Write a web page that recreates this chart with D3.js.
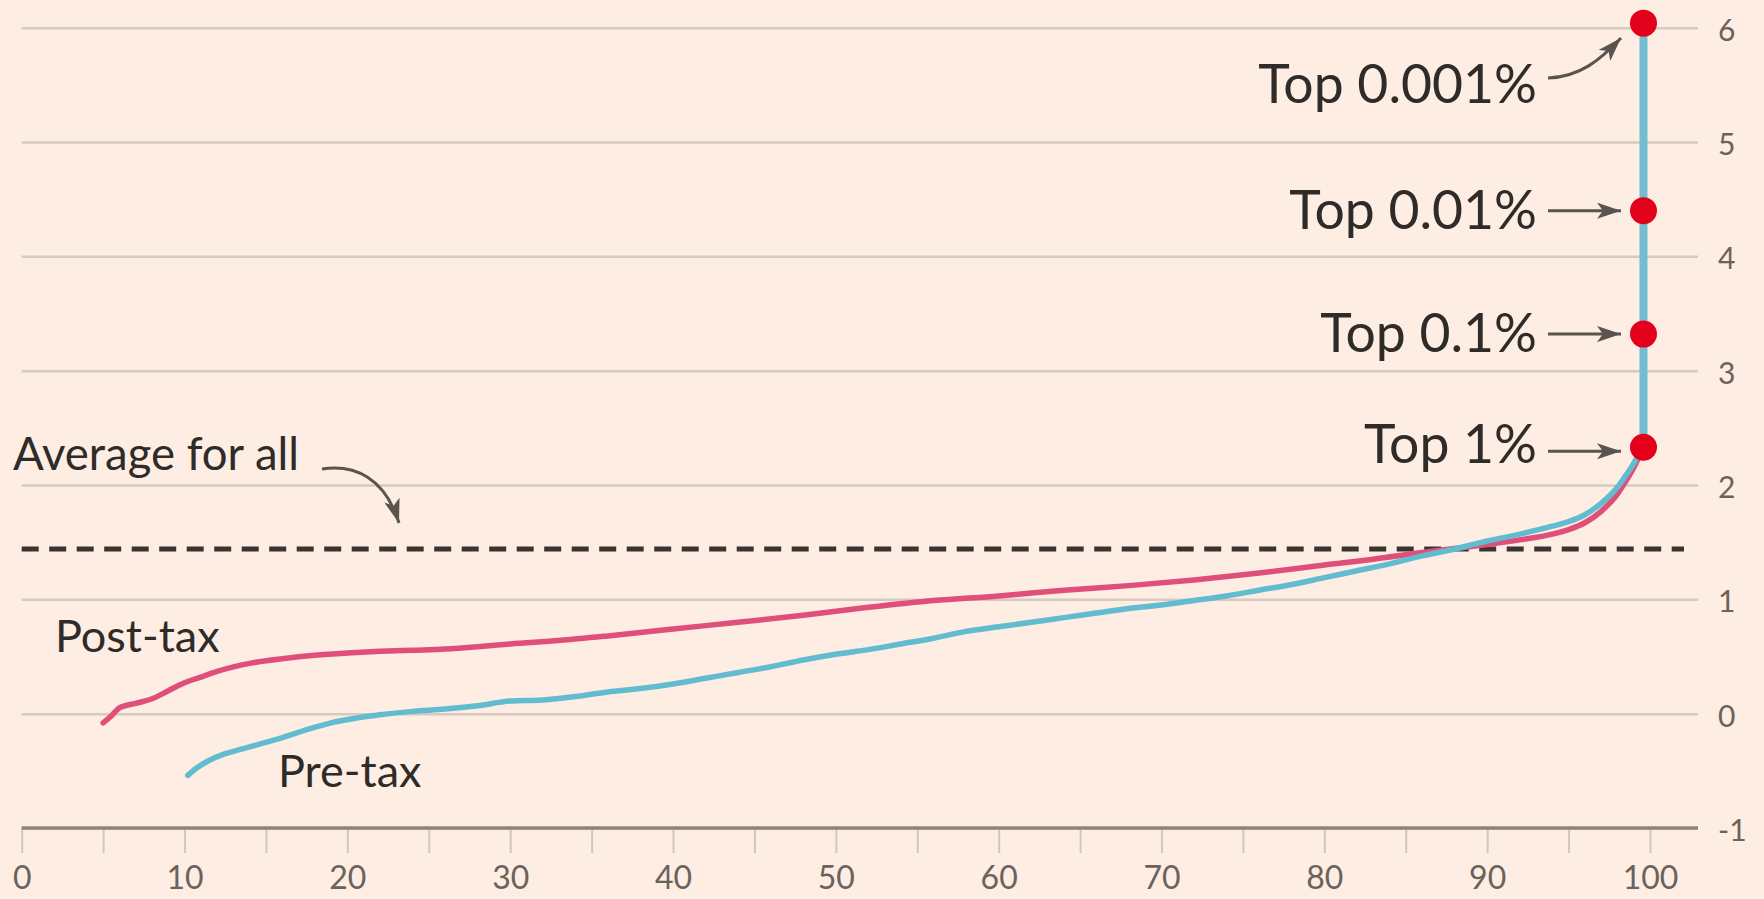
<!DOCTYPE html>
<html>
<head>
<meta charset="utf-8">
<script src="https://cdn.jsdelivr.net/npm/d3@7"></script>
<style>
  html, body { margin: 0; padding: 0; background: #fdede2; }
  svg { display: block; }
  text { font-family: Lato, "Open Sans", "Noto Sans", sans-serif; }
</style>
</head>
<body>
<svg id="chart" width="1764" height="899"></svg>
<script>
// Income growth by percentile of the distribution
const postTaxPct = [5, 5.5, 6, 7, 8, 9, 10, 11, 12, 13, 14, 16, 18, 20, 22, 24, 26, 28, 30, 33, 36, 40, 44, 48, 52, 56, 60, 64, 68, 72, 76, 80, 83, 86, 88, 90, 92, 94, 95, 96, 97, 98, 98.5, 99, 99.3, 99.6];
const postTaxVal = [-0.08, -0.02, 0.05, 0.09, 0.13, 0.2, 0.27, 0.32, 0.37, 0.41, 0.44, 0.48, 0.51, 0.53, 0.545, 0.555, 0.565, 0.585, 0.61, 0.64, 0.68, 0.74, 0.8, 0.86, 0.93, 0.99, 1.03, 1.08, 1.12, 1.17, 1.23, 1.3, 1.35, 1.41, 1.445, 1.48, 1.52, 1.57, 1.61, 1.67, 1.77, 1.92, 2.03, 2.15, 2.24, 2.33];

const preTaxPct = [10.2, 10.7, 11.5, 12.5, 13.5, 14.5, 16, 17.5, 19, 20.5, 22, 24, 26, 28, 30, 32, 34, 36, 38, 40, 42, 44, 46, 48, 50, 52, 54, 56, 58, 60, 62, 64, 66, 68, 70, 72, 74, 76, 78, 80, 82, 84, 86, 88, 90, 92, 94, 95, 96, 97, 98, 98.5, 99, 99.3, 99.6];
const preTaxVal = [-0.54, -0.48, -0.41, -0.35, -0.31, -0.27, -0.21, -0.14, -0.08, -0.04, -0.01, 0.02, 0.04, 0.07, 0.11, 0.12, 0.15, 0.19, 0.22, 0.26, 0.31, 0.36, 0.41, 0.47, 0.52, 0.56, 0.61, 0.66, 0.72, 0.76, 0.8, 0.84, 0.88, 0.92, 0.95, 0.99, 1.03, 1.08, 1.13, 1.19, 1.25, 1.31, 1.38, 1.44, 1.51, 1.57, 1.64, 1.68, 1.74, 1.84, 1.98, 2.08, 2.19, 2.27, 2.33];

const topGroups = ["Top 1%", "Top 0.1%", "Top 0.01%", "Top 0.001%"];
const topGroupVal = [2.33, 3.32, 4.40, 6.04];
const topGroupPct = 99.6;

const averageAll = 1.44;

const xTickValues = [0, 5, 10, 15, 20, 25, 30, 35, 40, 45, 50, 55, 60, 65, 70, 75, 80, 85, 90, 95, 100];
const xTickLabels = ["0", "", "10", "", "20", "", "30", "", "40", "", "50", "", "60", "", "70", "", "80", "", "90", "", "100"];
const yTickValues = [-1, 0, 1, 2, 3, 4, 5, 6];
const yTickLabels = ["-1", "0", "1", "2", "3", "4", "5", "6"];

const svg = d3.select("#chart");
const gridRight = 1698;

const x = d3.scaleLinear().domain([0, 100]).range([21.7, 1650]);
const y = d3.scaleLinear().domain([-1, 6]).range([828, 27.7]);

// Horizontal gridlines with labels on the right
const yAxis = d3.axisRight(y)
  .tickValues(yTickValues)
  .tickSize(-(gridRight - x(0)))
  .tickPadding(20)
  .tickFormat((d, i) => yTickLabels[i]);
const gy = svg.append("g").attr("transform", `translate(${gridRight},0)`).call(yAxis);
gy.select(".domain").remove();
gy.selectAll(".tick line").attr("stroke", "#d8cabe").attr("stroke-width", 2.5);
gy.selectAll(".tick text")
  .attr("fill", "#6b625c")
  .attr("font-size", 30)
  .attr("dy", "0.42em");

// Bottom axis with ticks every 5
const xAxis = d3.axisBottom(x)
  .tickValues(xTickValues)
  .tickSize(25)
  .tickFormat((d, i) => xTickLabels[i]);
const gx = svg.append("g").attr("transform", `translate(0,${y(-1)})`).call(xAxis);
gx.select(".domain").remove();
gx.selectAll(".tick line").attr("stroke", "#d3c6ba").attr("stroke-width", 2);
gx.selectAll(".tick text")
  .attr("fill", "#6b625c")
  .attr("font-size", 32)
  .attr("y", 61)
  .attr("dy", 0);
svg.append("line")
  .attr("x1", x(0)).attr("x2", gridRight)
  .attr("y1", y(-1)).attr("y2", y(-1))
  .attr("stroke", "#8d847d").attr("stroke-width", 3.5);

// Average line
svg.append("line")
  .attr("x1", x(0)).attr("x2", 1684)
  .attr("y1", y(averageAll)).attr("y2", y(averageAll))
  .attr("stroke", "#3a3431").attr("stroke-width", 5)
  .attr("stroke-dasharray", "17 10.5");

// Arrowhead
const defs = svg.append("defs");
defs.append("marker")
  .attr("id", "head")
  .attr("viewBox", "0 -8 24 16")
  .attr("refX", 24).attr("refY", 0)
  .attr("markerUnits", "userSpaceOnUse")
  .attr("markerWidth", 24).attr("markerHeight", 16)
  .attr("orient", "auto")
  .append("path")
  .attr("d", "M0,-8L24,0L0,8L6,0Z")
  .attr("fill", "#5a534e");

// Series lines
const line = d3.line().x(d => x(d[0])).y(d => y(d[1])).curve(d3.curveMonotoneX);
const postTax = postTaxPct.map((p, i) => [p, postTaxVal[i]]);
const preTax = preTaxPct.map((p, i) => [p, preTaxVal[i]]);

svg.append("path").datum(postTax)
  .attr("d", line)
  .attr("fill", "none").attr("stroke", "#df4f7a").attr("stroke-width", 5.5)
  .attr("stroke-linejoin", "round").attr("stroke-linecap", "round");
svg.append("path").datum(preTax)
  .attr("d", line)
  .attr("fill", "none").attr("stroke", "#62bccf").attr("stroke-width", 5.5)
  .attr("stroke-linejoin", "round").attr("stroke-linecap", "round");

// Vertical run through the top groups
svg.append("line")
  .attr("x1", x(topGroupPct)).attr("x2", x(topGroupPct))
  .attr("y1", y(d3.min(topGroupVal))).attr("y2", y(d3.max(topGroupVal)))
  .attr("stroke", "#72bdcf").attr("stroke-width", 8);

// Annotation arrows for top groups
topGroupVal.forEach((v, i) => {
  if (i < 3) {
    svg.append("line")
      .attr("x1", 1548).attr("x2", 1621)
      .attr("y1", y(v) + (i === 0 ? 4 : 0)).attr("y2", y(v) + (i === 0 ? 4 : 0))
      .attr("stroke", "#5a534e").attr("stroke-width", 3)
      .attr("marker-end", "url(#head)");
  }
});
svg.append("path")
  .attr("d", "M1548,78C1580,77 1600,60 1621,38")
  .attr("fill", "none").attr("stroke", "#5a534e").attr("stroke-width", 3)
  .attr("marker-end", "url(#head)");

// Red markers
svg.selectAll("circle.top").data(topGroupVal).join("circle")
  .attr("class", "top")
  .attr("cx", x(topGroupPct)).attr("cy", d => y(d))
  .attr("r", 13.5).attr("fill", "#e2001a");

// Group labels
const labelDy = [16, 18, 18, 80];
svg.selectAll("text.top").data(topGroups).join("text")
  .attr("class", "top")
  .attr("x", 1537)
  .attr("y", (d, i) => y(topGroupVal[i]) + labelDy[i])
  .attr("text-anchor", "end")
  .attr("font-size", 53.5)
  .attr("fill", "#2e2b29")
  .text(d => d);

// Series and average labels
svg.append("text").attr("x", 55).attr("y", 652)
  .attr("font-size", 45).attr("fill", "#2e2b29").text("Post-tax");
svg.append("text").attr("x", 278).attr("y", 787)
  .attr("font-size", 45).attr("fill", "#2e2b29").text("Pre-tax");
svg.append("text").attr("x", 13).attr("y", 470)
  .attr("font-size", 45.5).attr("fill", "#2e2b29").text("Average for all");
svg.append("path")
  .attr("d", "M322,469C355,464 385,478 399,523")
  .attr("fill", "none").attr("stroke", "#5a534e").attr("stroke-width", 3)
  .attr("marker-end", "url(#head)");
</script>
</body>
</html>
